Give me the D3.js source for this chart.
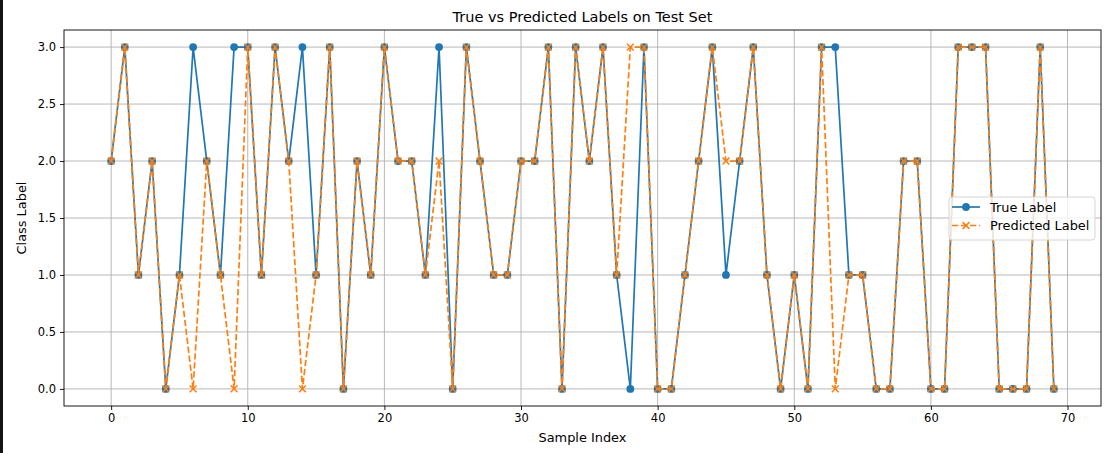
<!DOCTYPE html>
<html>
<head>
<meta charset="utf-8">
<script src="https://cdn.jsdelivr.net/npm/d3@7"></script>
<style>
  html, body { margin: 0; padding: 0; background: #fff; }
  svg { display: block; font-family: "DejaVu Sans", sans-serif; }
</style>
</head>
<body>
<svg id="chart" width="1113" height="453"></svg>
<script>
const trueLabels = [2,3,1,2,0,1,3,2,1,3, 3,1,3,2,3,1,3,0,2,1, 3,2,2,1,3,0,3,2,1,1, 2,2,3,0,3,2,3,1,0,3, 0,0,1,2,3,1,2,3,1,0, 1,0,3,3,1,1,0,0,2,2, 0,0,3,3,3,0,0,0,3,0];
const predLabels = [2,3,1,2,0,1,0,2,1,0, 3,1,3,2,0,1,3,0,2,1, 3,2,2,1,2,0,3,2,1,1, 2,2,3,0,3,2,3,1,3,3, 0,0,1,2,3,2,2,3,1,0, 1,0,3,0,1,1,0,0,2,2, 0,0,3,3,3,0,0,0,3,0];
const xTicks = [0,10,20,30,40,50,60,70];
const yTicks = [0.0,0.5,1.0,1.5,2.0,2.5,3.0];
const seriesNames = ["True Label", "Predicted Label"];
const titleText = "True vs Predicted Labels on Test Set";
const xLabelText = "Sample Index";
const yLabelText = "Class Label";

const svg = d3.select("#chart");
const W = 1113, H = 453;
const m = {left: 64, right: 12, top: 30, bottom: 47};
const pw = W - m.left - m.right, ph = H - m.top - m.bottom;
const blue = "#1f77b4", orange = "#ff7f0e";

svg.append("rect").attr("width", W).attr("height", H).attr("fill", "#fff");
svg.append("rect").attr("x", 0).attr("y", 0).attr("width", 3).attr("height", H).attr("fill", "#151515");

const n = trueLabels.length;
const x = d3.scaleLinear().domain([-0.05 * (n - 1), (n - 1) * 1.05]).range([m.left, m.left + pw]);
const y = d3.scaleLinear().domain([-0.15, 3.15]).range([m.top + ph, m.top]);

const g = svg.append("g");

// grid
g.append("g").selectAll("line").data(xTicks).join("line")
  .attr("x1", d => x(d)).attr("x2", d => x(d))
  .attr("y1", m.top).attr("y2", m.top + ph)
  .attr("stroke", "#b0b0b0").attr("stroke-width", 0.9);
g.append("g").selectAll("line").data(yTicks).join("line")
  .attr("y1", d => y(d)).attr("y2", d => y(d))
  .attr("x1", m.left).attr("x2", m.left + pw)
  .attr("stroke", "#b0b0b0").attr("stroke-width", 0.9);

// axes
const xAxis = d3.axisBottom(x).tickValues(xTicks).tickFormat(d3.format("d")).tickSize(4).tickPadding(4);
const yAxis = d3.axisLeft(y).tickValues(yTicks).tickFormat(d3.format(".1f")).tickSize(4).tickPadding(4);
const gx = svg.append("g").attr("transform", `translate(0,${m.top + ph})`).call(xAxis);
const gy = svg.append("g").attr("transform", `translate(${m.left},0)`).call(yAxis);
[gx, gy].forEach(a => {
  a.select(".domain").remove();
  a.selectAll("text").attr("font-size", "11.5px").attr("fill", "#000").attr("font-family", "DejaVu Sans");
  a.selectAll("line").attr("stroke", "#000").attr("stroke-width", 0.9);
});

const line = d3.line().x((d, i) => x(i)).y(d => y(d));

// true series
svg.append("path").datum(trueLabels).attr("d", line)
  .attr("fill", "none").attr("stroke", blue).attr("stroke-width", 1.7).attr("stroke-linejoin", "round");
svg.append("g").selectAll("circle").data(trueLabels).join("circle")
  .attr("cx", (d, i) => x(i)).attr("cy", d => y(d)).attr("r", 3.9).attr("fill", blue);

// predicted series
svg.append("path").datum(predLabels).attr("d", line)
  .attr("fill", "none").attr("stroke", orange).attr("stroke-width", 1.7)
  .attr("stroke-dasharray", "6.3,2.7").attr("stroke-linejoin", "round");
const xs = 3.4;
const xMark = (cx, cy) => `M${cx - xs},${cy - xs}L${cx + xs},${cy + xs}M${cx - xs},${cy + xs}L${cx + xs},${cy - xs}`;
svg.append("g").selectAll("path").data(predLabels).join("path")
  .attr("d", (d, i) => xMark(x(i), y(d)))
  .attr("stroke", orange).attr("stroke-width", 1.5).attr("fill", "none");

// frame
svg.append("rect").attr("x", m.left).attr("y", m.top).attr("width", pw).attr("height", ph)
  .attr("fill", "none").attr("stroke", "#000").attr("stroke-width", 0.9);

// title and labels
svg.append("text").attr("x", m.left + pw / 2).attr("y", 22).attr("text-anchor", "middle")
  .attr("font-size", "14.5px").attr("fill", "#000").text(titleText);
svg.append("text").attr("x", m.left + pw / 2).attr("y", 442).attr("text-anchor", "middle")
  .attr("font-size", "12.9px").attr("fill", "#000").text(xLabelText);
svg.append("text").attr("transform", `translate(26,${m.top + ph / 2}) rotate(-90)`).attr("text-anchor", "middle")
  .attr("font-size", "12.9px").attr("fill", "#000").text(yLabelText);

// legend
const lg = svg.append("g").attr("transform", "translate(949,197)");
lg.append("rect").attr("width", 146).attr("height", 43).attr("rx", 3)
  .attr("fill", "#fff").attr("fill-opacity", 0.8).attr("stroke", "#d0d0d0").attr("stroke-width", 0.9);
const rows = [
  {name: seriesNames[0], color: blue, dash: null, marker: "o"},
  {name: seriesNames[1], color: orange, dash: "6.3,2.7", marker: "x"}
];
rows.forEach((r, i) => {
  const cy = 10 + i * 18.5;
  lg.append("line").attr("x1", 3).attr("x2", 31).attr("y1", cy).attr("y2", cy)
    .attr("stroke", r.color).attr("stroke-width", 1.7).attr("stroke-dasharray", r.dash);
  if (r.marker === "o") {
    lg.append("circle").attr("cx", 17).attr("cy", cy).attr("r", 3.9).attr("fill", r.color);
  } else {
    lg.append("path").attr("d", xMark(17, cy)).attr("stroke", r.color).attr("stroke-width", 1.5);
  }
  lg.append("text").attr("x", 41).attr("y", cy + 4.5).attr("font-size", "12.9px").attr("fill", "#000").text(r.name);
});
</script>
</body>
</html>
